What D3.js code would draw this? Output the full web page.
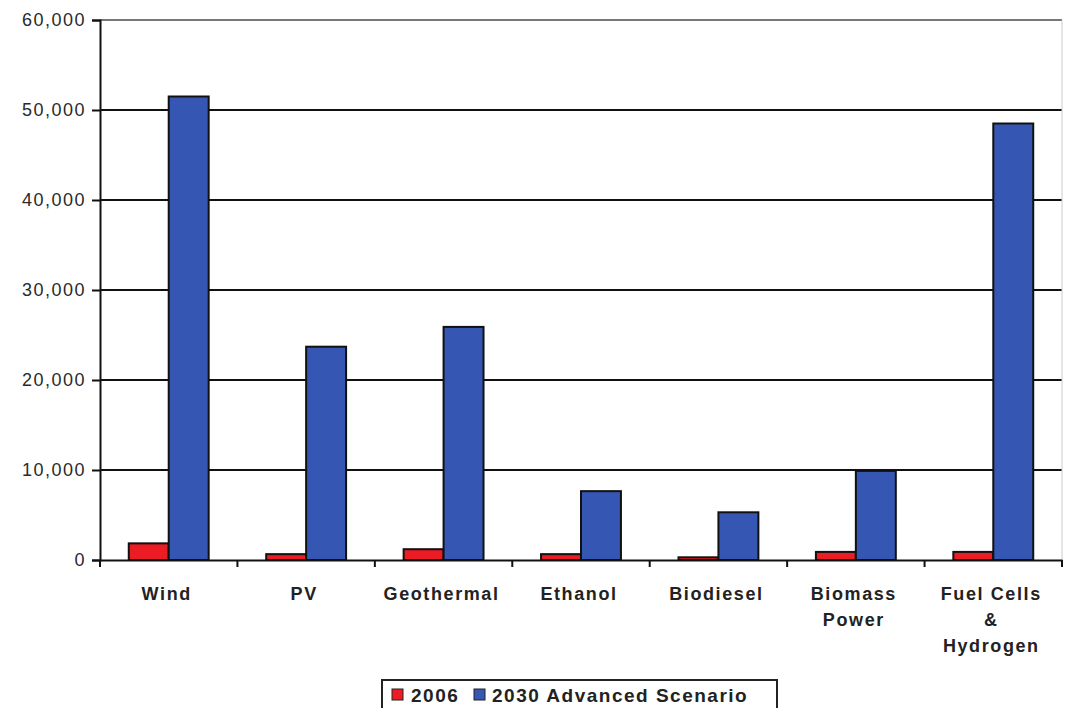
<!DOCTYPE html>
<html><head><meta charset="utf-8">
<script src="https://cdn.jsdelivr.net/npm/d3@7"></script>
<style>body{margin:0;background:#fff;} svg{display:block;}</style>
</head><body>
<svg id="c" width="1066" height="708"></svg>
<script>
const categories = ["Wind","PV","Geothermal","Ethanol","Biodiesel","Biomass Power","Fuel Cells & Hydrogen"];
const labelLines = [["Wind"],["PV"],["Geothermal"],["Ethanol"],["Biodiesel"],["Biomass","Power"],["Fuel Cells","&","Hydrogen"]];
const series2006 = [1850, 650, 1200, 650, 300, 900, 900];
const series2030 = [51500, 23700, 25900, 7650, 5300, 9900, 48500];
const seriesNames = ["2006","2030 Advanced Scenario"];
const seriesColors = ["#ec1c24","#3656b4"];
const yTicks = [0,10000,20000,30000,40000,50000,60000];

const FONT = "Liberation Sans, Arial, sans-serif";
const svg = d3.select("#c");
const m = {l:100, r:1062, t:20, b:560};
const x = d3.scaleBand().domain(categories).range([m.l, m.r]).paddingInner(0).paddingOuter(0);
const y = d3.scaleLinear().domain([0,60000]).range([m.b, m.t]);
const inner = d3.scaleBand().domain(seriesNames).range([0, x.bandwidth()]).paddingInner(0).paddingOuter(0.72);

// gridlines
svg.append("g").selectAll("line").data(yTicks.filter(d=>d>0)).join("line")
  .attr("x1", m.l).attr("x2", m.r).attr("y1", d=>y(d)).attr("y2", d=>y(d))
  .attr("stroke", d=>d===60000?"#777":"#111").attr("stroke-width", 2);
svg.append("line").attr("x1",m.r).attr("x2",m.r).attr("y1",m.t).attr("y2",m.b).attr("stroke","#ccc").attr("stroke-width",1);

// bars
const data = categories.map((c,i)=>({c, vals:[series2006[i], series2030[i]]}));
const g = svg.append("g").selectAll("g").data(data).join("g").attr("transform", d=>`translate(${x(d.c)},0)`);
g.selectAll("rect").data(d=>d.vals.map((v,j)=>({v, s:seriesNames[j], j}))).join("rect")
  .attr("x", d=>inner(d.s)).attr("width", inner.bandwidth())
  .attr("y", d=>y(d.v)).attr("height", d=>y(0)-y(d.v))
  .attr("fill", d=>seriesColors[d.j]).attr("stroke","#111").attr("stroke-width",2);

// y axis
const ya = svg.append("g").attr("transform",`translate(${m.l},0)`)
  .call(d3.axisLeft(y).tickValues(yTicks).tickFormat(d3.format(",")).tickSize(8).tickPadding(6));
ya.select(".domain").attr("stroke","#111").attr("stroke-width",2);
ya.selectAll(".tick line").attr("stroke","#111").attr("stroke-width",2);
ya.selectAll("text").attr("font-family",FONT).attr("font-size",18)
  .attr("fill","#2a2a2a").attr("letter-spacing",1.5);

// x axis
const xa = svg.append("g").attr("transform",`translate(0,${m.b})`)
  .call(d3.axisBottom(x).tickValues([]).tickSizeOuter(0));
xa.select(".domain").attr("stroke","#111").attr("stroke-width",2);
svg.append("g").selectAll("line").data(categories.concat(["end"])).join("line")
  .attr("x1", (d,i)=> i<categories.length ? x(d) : m.r).attr("x2",(d,i)=> i<categories.length ? x(d) : m.r)
  .attr("y1", m.b).attr("y2", m.b+7).attr("stroke","#111").attr("stroke-width",2);

const xl = svg.append("g").selectAll("text").data(categories).join("text")
  .attr("x", d=>x(d)+x.bandwidth()/2-2).attr("y", 600)
  .attr("text-anchor","middle").attr("font-family",FONT)
  .attr("font-size",18).attr("font-weight","bold").attr("letter-spacing",1.6).attr("fill","#222");
xl.each(function(d,i){
  d3.select(this).selectAll("tspan").data(labelLines[i]).join("tspan")
    .attr("x", x(d)+x.bandwidth()/2-2).attr("dy",(t,k)=>k===0?0:26).text(t=>t);
});

// legend
const lg = svg.append("g");
lg.append("rect").attr("x",382).attr("y",680).attr("width",395).attr("height",40).attr("fill","#fff").attr("stroke","#222").attr("stroke-width",2);
const items = [{n:seriesNames[0], c:seriesColors[0], x:392, tx:411},{n:seriesNames[1], c:seriesColors[1], x:474, tx:492}];
lg.selectAll("rect.k").data(items).join("rect").attr("class","k")
  .attr("x",d=>d.x).attr("y",689).attr("width",11).attr("height",11).attr("fill",d=>d.c).attr("stroke","#222").attr("stroke-width",1);
lg.selectAll("text").data(items).join("text").attr("x",d=>d.tx).attr("y",702)
  .attr("font-family",FONT).attr("font-size",19).attr("font-weight","bold")
  .attr("letter-spacing",1.5).attr("fill","#222").text(d=>d.n);
</script>
</body></html>
